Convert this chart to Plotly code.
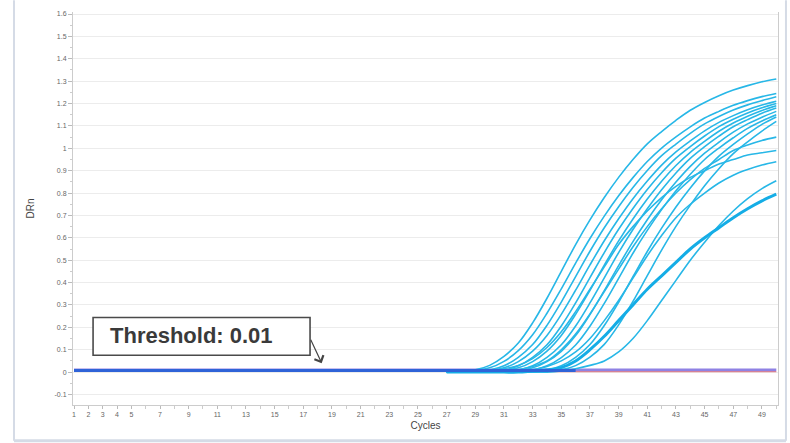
import plotly.graph_objects as go

# ---------------- data ----------------
curve_cycles = list(range(27, 51))  # cycles 27..50 (flat at ~0 before)

curve_a = [0, .005, .01, .03, .07, .13, .22, .33, .45, .57, .68, .78, .87, .95, 1.02, 1.075, 1.125, 1.17, 1.205, 1.235, 1.26, 1.28, 1.297, 1.31]
curve_b = [0, .003, .008, .019, .048, .096, .167, .263, .372, .487, .597, .697, .788, .869, .941, 1.001, 1.051, 1.096, 1.135, 1.165, 1.192, 1.213, 1.231, 1.245]
curve_c = [0, 0, .005, .009, .028, .066, .123, .209, .313, .427, .540, .645, .739, .825, .901, .967, 1.019, 1.067, 1.109, 1.142, 1.171, 1.194, 1.213, 1.230]
curve_d = [0, 0, .003, .008, .019, .047, .094, .164, .258, .366, .479, .587, .685, .775, .854, .925, .984, 1.033, 1.078, 1.116, 1.146, 1.172, 1.193, 1.210]
curve_e = [0, 0, 0, .005, .009, .028, .066, .122, .206, .309, .422, .534, .638, .731, .816, .891, .956, 1.008, 1.055, 1.097, 1.130, 1.158, 1.181, 1.200]
curve_f = [0, 0, 0, .003, .007, .019, .047, .094, .164, .258, .365, .478, .586, .684, .773, .853, .923, .982, 1.031, 1.076, 1.113, 1.143, 1.169, 1.190]
curve_g = [0, 0, 0, 0, .005, .009, .028, .066, .122, .206, .309, .421, .534, .637, .730, .815, .890, .955, 1.007, 1.054, 1.096, 1.128, 1.157, 1.180]
curve_h = [0, 0, 0, 0, .003, .007, .019, .047, .093, .163, .257, .364, .476, .583, .681, .770, .849, .919, .978, 1.027, 1.072, 1.109, 1.139, 1.165]
curve_i = [0, 0, 0, 0, 0, .005, .009, .028, .065, .121, .205, .307, .419, .531, .633, .726, .810, .884, .950, 1.001, 1.047, 1.089, 1.122, 1.150]
curve_j = [0, 0, 0, 0, 0, 0, .005, .009, .028, .066, .123, .208, .312, .426, .539, .643, .738, .823, .899, .965, 1.017, 1.064, 1.107, 1.140]
curve_k = [0, 0, 0, 0, 0, 0, 0, .005, .010, .029, .067, .124, .211, .316, .431, .545, .651, .746, .833, .909, .976, 1.029, 1.077, 1.120]
curve_l = [0, 0, 0, .005, .015, .03, .06, .11, .18, .27, .37, .47, .57, .65, .72, .78, .83, .87, .90, .93, .95, .97, .98, .99]
curve_m = [0, 0, 0, 0, 0, .01, .025, .05, .10, .17, .26, .36, .46, .56, .65, .73, .80, .86, .91, .95, .99, 1.015, 1.035, 1.05]
curve_n = [0, 0, 0, 0, 0, 0, .01, .025, .05, .09, .15, .23, .32, .42, .52, .61, .69, .75, .80, .845, .88, .905, .925, .94]
curve_r = [0, 0, 0, 0, 0, 0, 0, 0, .005, .015, .03, .05, .09, .15, .23, .32, .41, .50, .58, .655, .72, .775, .82, .855]
curve_t = [0, 0, 0, 0, 0, 0, .005, .01, .02, .05, .10, .16, .23, .30, .37, .43, .49, .55, .60, .645, .69, .73, .765, .795]

thin_curves = [curve_a, curve_b, curve_c, curve_d, curve_e, curve_f, curve_g, curve_h,
               curve_i, curve_j, curve_k, curve_l, curve_m, curve_n, curve_r]
thick_curves = [curve_t]

threshold_cycles = [1, 50]
threshold_values = [0.01, 0.01]
ntc_cycles = [33, 50]
ntc_values = [0.002, 0.002]
baseline_cycles = [1, 36]
baseline_values = [0.007, 0.007]

x_tick_vals = [1, 2, 3, 4, 5] + list(range(7, 50, 2))
x_tick_text = [str(v) for v in x_tick_vals]
y_tick_vals = [-0.1, 0, 0.1, 0.2, 0.3, 0.4, 0.5, 0.6, 0.7, 0.8, 0.9, 1, 1.1, 1.2, 1.3, 1.4, 1.5, 1.6]
y_tick_text = ["-0.1", "0", "0.1", "0.2", "0.3", "0.4", "0.5", "0.6", "0.7", "0.8", "0.9",
               "1", "1.1", "1.2", "1.3", "1.4", "1.5", "1.6"]

threshold_label = "Threshold: 0.01"

# ---------------- figure ----------------
fig = go.Figure()

fig.add_trace(go.Scatter(x=ntc_cycles, y=ntc_values, mode="lines",
                         line=dict(color="#ea8080", width=1.2), hoverinfo="skip", showlegend=False))
fig.add_trace(go.Scatter(x=threshold_cycles, y=threshold_values, mode="lines",
                         line=dict(color="#8f82e4", width=2.6), hoverinfo="skip", showlegend=False))

curve_color = "#27b7e7"
for ys in thin_curves:
    fig.add_trace(go.Scatter(x=curve_cycles, y=ys, mode="lines",
                             line=dict(color=curve_color, width=1.6, shape="spline", smoothing=1.0),
                             hoverinfo="skip", showlegend=False))
for ys in thick_curves:
    fig.add_trace(go.Scatter(x=curve_cycles, y=ys, mode="lines",
                             line=dict(color="#14ade6", width=3, shape="spline", smoothing=1.0),
                             hoverinfo="skip", showlegend=False))

fig.add_trace(go.Scatter(x=baseline_cycles, y=baseline_values, mode="lines",
                         line=dict(color="#2f63d8", width=3), hoverinfo="skip", showlegend=False))

tick_font = dict(family="Liberation Sans, Arial, sans-serif", size=7, color="#666666")

fig.update_xaxes(
    range=[0.93, 50.12], tickmode="array", tickvals=x_tick_vals, ticktext=x_tick_text,
    ticks="outside", ticklen=3, tickcolor="#bbbbbb", tickfont=tick_font,
    showline=True, linecolor="#cccccc", linewidth=1, mirror=False,
    showgrid=False, zeroline=False,
    minor=dict(dtick=1, tick0=1, ticks="outside", ticklen=3, tickcolor="#cccccc", showgrid=False),
    title=dict(text="Cycles", font=dict(family="Liberation Sans, Arial, sans-serif", size=10, color="#444444"),
               standoff=4),
)
fig.update_yaxes(
    range=[-0.147, 1.609], tickmode="array", tickvals=y_tick_vals, ticktext=y_tick_text,
    ticks="outside", ticklen=4, tickcolor="#bbbbbb", tickfont=tick_font,
    showline=True, linecolor="#cccccc", linewidth=1, mirror=True,
    showgrid=True, gridcolor="#ececec", gridwidth=1, zeroline=False,
    minor=dict(dtick=0.05, tick0=0, ticks="outside", ticklen=2, tickcolor="#cccccc", showgrid=False),
    title=dict(text="DRn", font=dict(family="Liberation Sans, Arial, sans-serif", size=10, color="#444444"),
               standoff=18),
)

# threshold label box, text and arrow
fig.add_shape(type="rect", xref="x", yref="y", x0=2.33, x1=17.47, y0=0.0756, y1=0.244,
              line=dict(color="#4a4a4a", width=1.6), fillcolor="white", layer="above")
fig.add_annotation(x=3.37, y=0.162, xref="x", yref="y", xanchor="left", yanchor="middle",
                   text=threshold_label, showarrow=False,
                   font=dict(family="Liberation Sans, Arial, sans-serif", size=22, color="#3a3a3a",
                             weight="bold"))
fig.add_annotation(x=18.28, y=0.04, xref="x", yref="y", ax=17.47, ay=0.151, axref="x", ayref="y",
                   text="", showarrow=True, arrowhead=4, arrowsize=1.6, arrowwidth=1.2,
                   arrowcolor="#444444")

# outer frame of the screenshot
frame_color = "#d5dbe6"
fig.add_shape(type="line", xref="paper", yref="paper", x0=-0.0837, x1=-0.0837, y0=-0.091, y1=1.03,
              line=dict(color=frame_color, width=2))
fig.add_shape(type="line", xref="paper", yref="paper", x0=-0.0837, x1=1.0113, y0=-0.091, y1=-0.091,
              line=dict(color=frame_color, width=3))
fig.add_shape(type="line", xref="paper", yref="paper", x0=1.0113, x1=1.0113, y0=-0.091, y1=1.03,
              line=dict(color=frame_color, width=2))

fig.update_layout(
    width=790, height=443,
    margin=dict(l=73, r=12, t=10, b=38),
    paper_bgcolor="white", plot_bgcolor="white",
    showlegend=False,
)

fig.write_html("out.html", config={"displayModeBar": False},
               post_script="document.body.style.margin='0';document.body.style.overflow='hidden';")
